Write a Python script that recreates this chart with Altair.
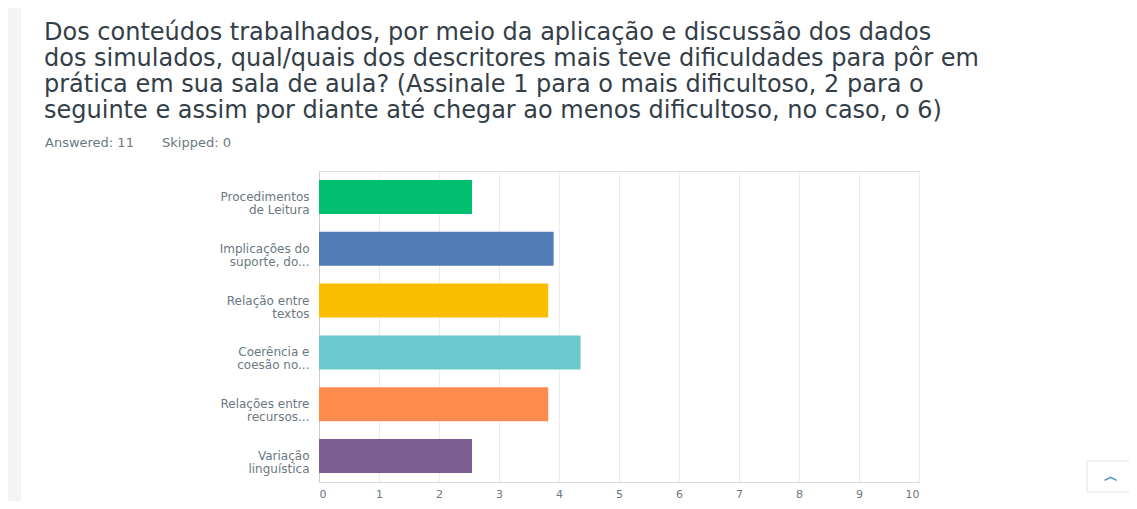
import altair as alt
import pandas as pd

categories = [
    "Procedimentos|de Leitura",
    "Implicações do|suporte, do...",
    "Relação entre|textos",
    "Coerência e|coesão no...",
    "Relações entre|recursos...",
    "Variação|linguística",
]
values = [2.55, 3.91, 3.82, 4.36, 3.82, 2.55]
colors = ["#00BF6F", "#507CB6", "#F9BE00", "#6BC8CD", "#FF8B4F", "#7D5E90"]
x_ticks = list(range(0, 11))

title_lines = [
    "Dos conteúdos trabalhados, por meio da aplicação e discussão dos dados",
    "dos simulados, qual/quais dos descritores mais teve dificuldades para pôr em",
    "prática em sua sala de aula? (Assinale 1 para o mais dificultoso, 2 para o",
    "seguinte e assim por diante até chegar ao menos dificultoso, no caso, o 6)",
]
answered_text = "Answered: 11"
skipped_text = "Skipped: 0"

df = pd.DataFrame({"cat": categories, "val": values, "color": colors})

FONT = "DejaVu Sans"
one = pd.DataFrame({"k": [0]})

bars = alt.Chart(df).mark_bar().encode(
    y=alt.Y(
        "cat:N",
        sort=categories,
        title=None,
        scale=alt.Scale(paddingInner=0.344, paddingOuter=0.172),
        axis=alt.Axis(
            labelExpr="split(datum.label, '|')",
            ticks=False,
            grid=False,
            domain=True,
            domainColor="#cccccc",
            labelFont=FONT,
            labelFontSize=12,
            labelColor="#6b787f",
            labelLineHeight=13,
            labelPadding=10,
            labelLimit=200,
        ),
    ),
    x=alt.X(
        "val:Q",
        title=None,
        scale=alt.Scale(domain=[0, 10], nice=False),
        axis=alt.Axis(
            values=x_ticks,
            ticks=False,
            grid=True,
            gridColor="#ececec",
            domain=True,
            domainColor="#d9d9d9",
            labelFont=FONT,
            labelFontSize=11,
            labelColor="#6b787f",
            labelPadding=6,
        ),
    ),
    color=alt.Color("color:N", scale=None, legend=None),
)

# page header texts
title = alt.Chart(one).mark_text(
    text=title_lines, font=FONT, fontSize=24, color="#333e48",
    lineHeight=26, align="left", baseline="alphabetic",
).encode(x=alt.value(-275), y=alt.value(-131.5))
answered = alt.Chart(one).mark_text(
    text=answered_text, font=FONT, fontSize=13, color="#6b787f",
    align="left", baseline="alphabetic",
).encode(x=alt.value(-274), y=alt.value(-24))
skipped = alt.Chart(one).mark_text(
    text=skipped_text, font=FONT, fontSize=13, color="#6b787f",
    align="left", baseline="alphabetic",
).encode(x=alt.value(-157), y=alt.value(-24))

# decorative left strip and scroll-to-top button
strip = alt.Chart(one).mark_rect(color="#f3f4f4").encode(
    x=alt.value(-312), x2=alt.value(-298), y=alt.value(-171), y2=alt.value(340)
)
button = alt.Chart(one).mark_rect(
    color="#ffffff", stroke="#e3e3e3", strokeWidth=1
).encode(x=alt.value(768), x2=alt.value(816), y=alt.value(290), y2=alt.value(321))
chevron = alt.Chart(pd.DataFrame({"t": ["︿"]})).mark_text(
    color="#3d8fc9", fontSize=14, font=FONT, fontWeight="bold"
).encode(text="t:N", x=alt.value(792), y=alt.value(306))

chart = alt.layer(strip, title, answered, skipped, bars, button, chevron).properties(
    width=600,
    height=311,
    autosize=alt.AutoSizeParams(type="none"),
    padding={"left": 311, "top": 163, "right": 210, "bottom": 19},
).configure_view(stroke=None).configure(background="#ffffff")

chart.save("out.html", embed_options={"renderer": "svg", "actions": False})
